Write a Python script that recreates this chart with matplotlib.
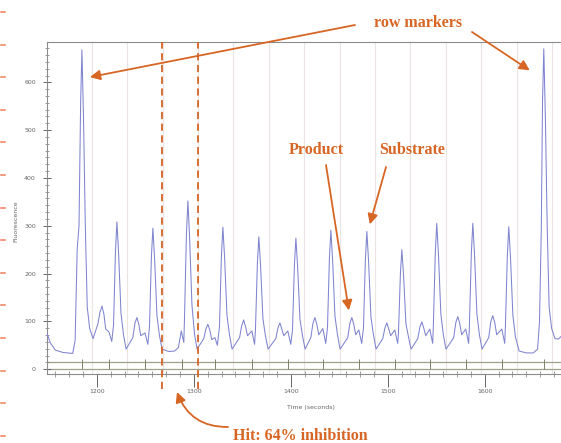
import numpy as np
import matplotlib.pyplot as plt
from matplotlib.lines import Line2D
from matplotlib.ticker import MultipleLocator, AutoMinorLocator

# fluorescence trace (time in s, fluorescence)
trace_t = [
    1148.5, 1152, 1157, 1165, 1175,
    1177.5, 1179.6, 1181.5, 1183.2, 1184.5, 1186.2, 1188, 1190, 1192.5, 1196,
    1201, 1203.2, 1205.2, 1207.2, 1209, 1212.4, 1215.3,
    1217.1, 1219.1, 1220.6, 1222.4, 1224.8, 1227.4, 1230.1,
    1237, 1239.2, 1241.2, 1243.2, 1245.2, 1249.5, 1252.5,
    1254.2, 1256.2, 1257.7, 1259.5, 1261.9, 1264.5, 1267.2,
    1274, 1280, 1284, 1287, 1289.6,
    1290.3, 1292.3, 1293.8, 1295.6, 1298, 1300.6, 1303.3,
    1310.2, 1312.4, 1314.4, 1316.4, 1318.4, 1321.7, 1324.2,
    1326.4, 1328.4, 1329.9, 1331.7, 1334.1, 1336.7, 1339.4,
    1347.1, 1349.3, 1351.3, 1353.3, 1355.3, 1359.8, 1362.6,
    1363.5, 1365.5, 1367, 1368.8, 1371.2, 1373.8, 1376.5,
    1384.5, 1386.7, 1388.7, 1390.7, 1392.7, 1396.9, 1399.9,
    1401.7, 1403.7, 1405.2, 1407, 1409.4, 1412, 1414.7,
    1420.6, 1422.8, 1424.8, 1426.8, 1428.8, 1433, 1436,
    1437.8, 1439.8, 1441.3, 1443.1, 1445.5, 1448.1, 1450.8,
    1458.7, 1460.9, 1462.9, 1464.9, 1466.9, 1470.1, 1473.1,
    1474.9, 1476.9, 1478.4, 1480.2, 1482.6, 1485.2, 1487.9,
    1494.8, 1497, 1499, 1501, 1503, 1507.2, 1510.2,
    1511, 1513, 1514.5, 1516.3, 1518.7, 1521.3, 1524,
    1530.9, 1533.1, 1535.1, 1537.1, 1539.1, 1543.3, 1546.3,
    1547, 1549, 1550.5, 1552.3, 1554.7, 1557.3, 1560,
    1568, 1570.2, 1572.2, 1574.2, 1576.2, 1580.4, 1583.4,
    1584.2, 1586.2, 1587.7, 1589.5, 1591.9, 1594.5, 1597.2,
    1604.1, 1606.3, 1608.3, 1610.3, 1612.3, 1617.6, 1620.6,
    1621.3, 1623.3, 1624.8, 1626.6, 1629, 1631.6, 1635.5,
    1643, 1650, 1654.5,
    1656.5, 1658.3, 1659.6, 1660.9, 1662.6, 1664.4, 1666.4, 1669, 1672.5,
    1676, 1682, 1693,
]
trace_f = [
    75, 55, 40, 35, 33,
    60, 250, 300, 560, 668, 520, 300, 130, 85, 64,
    95, 120, 132, 115, 84, 78, 58,
    92, 246, 308, 240, 117, 72, 42,
    66, 96, 108, 94, 70, 76, 52,
    89, 236, 295, 230, 112, 70, 42,
    37, 38, 45, 80, 56,
    106, 282, 352, 275, 134, 74, 42,
    64, 84, 94, 82, 62, 66, 50,
    89, 238, 297, 232, 113, 72, 42,
    66, 91, 103, 89, 70, 80, 52,
    83, 222, 277, 216, 105, 70, 42,
    64, 86, 97, 84, 70, 80, 52,
    82, 219, 274, 214, 104, 70, 42,
    66, 96, 108, 94, 72, 85, 54,
    87, 233, 291, 227, 111, 72, 42,
    66, 96, 108, 94, 72, 82, 54,
    86, 230, 288, 225, 109, 72, 42,
    64, 86, 97, 84, 70, 82, 54,
    75, 200, 250, 195, 95, 68, 42,
    64, 88, 99, 86, 70, 84, 54,
    92, 244, 305, 238, 116, 72, 42,
    66, 98, 110, 96, 72, 84, 54,
    92, 244, 305, 238, 116, 72, 42,
    66, 100, 112, 98, 72, 84, 54,
    89, 238, 298, 232, 113, 68, 38,
    34, 34, 42,
    100, 290, 560, 670, 520, 300, 130, 85, 64,
    63, 75, 70,
]

# well boundaries (light vertical lines) and event marks on the baseline track
well_times = [1194.8, 1231.3, 1267.8, 1304.3, 1340.8, 1377.3, 1413.8,
              1450.3, 1486.8, 1523.3, 1559.8, 1596.3, 1632.8, 1669.3]
event_times = [1184.5, 1212.4, 1249.5, 1287.3, 1321.7, 1359.8, 1396.9,
               1433, 1470.1, 1507.2, 1543.3, 1580.4, 1617.6, 1660.9]
hit_window = [1267.3, 1304.1]

orange = '#d76524'

fig = plt.figure(figsize=(5.61, 4.43), dpi=100)
ax = fig.add_axes([0.0838, 0.1558, 0.941, 0.749])

for t in well_times:
    ax.axvline(t, color='#ece3e3', lw=0.8, zorder=0)

# baseline track lines
ax.axhline(0, color='#9da38c', lw=0.9, zorder=1)
ax.axhline(16, color='#9da38c', lw=0.9, zorder=1)
ax.vlines(event_times, 0, 22, color='#7c8468', lw=0.7, zorder=2)

ax.plot(trace_t, trace_f, color='#7f84cf', lw=0.75, zorder=3)

for t in hit_window:
    ax.axvline(t, ymin=-0.045, ymax=1, color=orange, lw=1.3,
               ls=(0, (4, 2.5)), clip_on=False, zorder=4)

ax.set_xlim(1148.5, 1693)
ax.set_ylim(-10, 684)

ax.xaxis.set_major_locator(MultipleLocator(100))
ax.xaxis.set_minor_locator(AutoMinorLocator(7))
ax.yaxis.set_major_locator(MultipleLocator(100))
ax.yaxis.set_minor_locator(AutoMinorLocator(7))
ax.tick_params(axis='x', which='major', direction='out', length=9, width=0.7,
               pad=2, labelsize=4.5, colors='#666666')
ax.tick_params(axis='x', which='minor', direction='inout', length=4, width=0.5,
               colors='#777777')
ax.tick_params(axis='y', which='major', direction='inout', length=6, width=0.7,
               pad=5, labelsize=4.5, colors='#666666')
ax.tick_params(axis='y', which='minor', direction='inout', length=3, width=0.5,
               colors='#777777')
for s in ax.spines.values():
    s.set_color('#8c8c8c')
    s.set_linewidth(0.8)

ax.set_xlabel('Time (seconds)', fontsize=4.5, color='#666666')
ax.xaxis.set_label_coords(0.5, -0.093)
ax.set_ylabel('Fluorescence', fontsize=4.5, color='#666666')
ax.yaxis.set_label_coords(-0.055, 0.46)

# annotations
font = dict(family='Liberation Serif', weight='bold', size=11.5, color=orange)
arrow = dict(arrowstyle='-|>,head_length=0.6,head_width=0.3', color=orange,
             lw=1.3, shrinkA=0, shrinkB=0)

fig.text(418 / 561, 1 - 23 / 443, 'row markers', ha='center', va='center', **font)
ax.annotate('', xy=(1192.8, 611), xytext=(355, 443 - 25),
            textcoords='figure pixels', arrowprops=arrow)
ax.annotate('', xy=(1646.4, 625), xytext=(472, 443 - 32),
            textcoords='figure pixels', arrowprops=arrow)

fig.text(316 / 561, 1 - 150 / 443, 'Product', ha='center', va='center', **font)
ax.annotate('', xy=(1459.8, 123), xytext=(326, 443 - 165),
            textcoords='figure pixels', arrowprops=arrow)

fig.text(412 / 561, 1 - 150 / 443, 'Substrate', ha='center', va='center', **font)
ax.annotate('', xy=(1481.5, 303), xytext=(386, 443 - 167),
            textcoords='figure pixels', arrowprops=arrow)

fig.text(300 / 561, 1 - 436 / 443, 'Hit: 64% inhibition', ha='center',
         va='center', **font)
ax.annotate('', xy=(177, 443 - 392), xycoords='figure pixels',
            xytext=(228, 443 - 427), textcoords='figure pixels',
            arrowprops=dict(arrow, connectionstyle='arc3,rad=-0.35'),
            annotation_clip=False)

# page margin marks
for y in np.arange(12, 443, 32.6):
    fig.add_artist(Line2D([1 / 561, 5 / 561], [1 - y / 443, 1 - y / 443],
                          color='#f08a6a', lw=1.2, transform=fig.transFigure))

fig.savefig('out.png', dpi=100)
